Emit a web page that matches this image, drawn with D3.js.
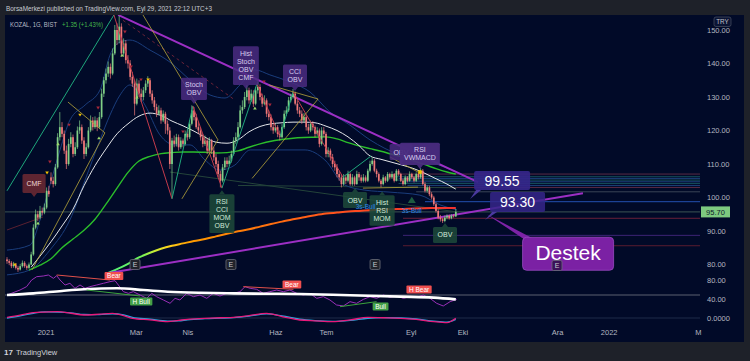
<!DOCTYPE html>
<html><head><meta charset="utf-8">
<script src="https://cdn.jsdelivr.net/npm/d3@7"></script>
<style>
html,body{margin:0;padding:0;background:#1e2129;}
svg{display:block;}
text{font-family:"Liberation Sans",Arial,sans-serif;}
</style></head><body>
<svg id="c" width="750" height="361"></svg>
<script>
// ---------------- DATA ----------------
// daily candles [open, high, low, close], bar index 0 = early Dec 2020
const candles = [
[81.5,82.2,80.2,81],[81,81.6,79.8,80.5],[80.5,81,78.9,79.5],[79.5,80.8,79,80],[80,80.4,78.5,79],
[79,79.6,77.8,78.5],[78.5,80.2,78.2,79.5],[79.5,81.2,79.1,80.5],[80.5,81,79,79.5],[79.5,80,78.4,79],
[79,80.6,78.7,80],[80,83.8,79.8,83],[83,92,82.6,91],[91,96.4,90.5,95],[95,96,93,94],
[94,97.5,93.5,96],[96,97,94.6,95.5],[95.5,98.2,95,97],[97,103,96.5,102],[102,103.5,100.2,101],
[106,107.5,104,105],[105,106.2,103,104],[104,110,103.5,109],[109,119.2,108.6,118],[118,125.5,117,121],
[121,122.5,118,119],[119,120,113,114],[114,115.5,108.5,110],[110,117.5,109.5,116],[116,119.5,115,118],
[118,118.8,112,113],[113,116.5,112.4,115],[115,121.2,114.5,120],[120,123,119,121],[121,121.8,116,117],
[117,118,111.5,113],[113,116.2,112.3,115],[115,121,114.6,120],[120,124.5,119.5,123],[123,124,120,121],
[121,124.2,120.5,123],[123,123.8,119.8,121],[121,125.5,120.4,124],[124,132.5,123.5,131],[131,136,130,135],
[135,138.5,134,137],[137,140.6,136,139],[139,140,135.5,137],[137,144.5,136.5,143],[143,151.5,142.5,150],
[150,152,145.5,147],[147,154.2,146,151],[151,152,142,143],[143,147.5,142,146],[146,147,140,141],
[141,142.5,138.5,140],[140,141,135,136],[136,137.5,133,134],[134,135,124.5,128],[128,135.5,127.5,134],
[134,135,130,131],[131,132.5,128.5,130],[130,133,129,132],[132,135,131.2,134],[134,136.2,133,135],
[135,135.6,130,131],[131,132,128,129],[129,130,126,127],[127,128,124,125],[125,127.5,124.5,126],
[126,126.8,122,123],[123,126,122.5,125],[125,125.6,119,122],[122,123,118.8,120],[120,121,108.5,110],
[110,117.8,100,117],[117,118.5,115,116],[116,119,115.2,118],[118,118.8,114,115],[115,118,114.5,117],
[117,117.6,115,116],[116,120,115.5,119],[119,120.4,117,118],[118,123,117.5,122],[122,127.5,121.5,126],
[126,127,123,124],[124,125,120.5,121],[121,122.6,119,120],[120,121,117,118],[118,119,115,116],
[116,118.5,115.4,117],[117,117.8,113,114],[114,118,113.5,117],[117,117.5,113,114],[114,115,111,112],
[112,113,109,110],[110,111,106,107],[107,108,103,105],[105,110,104.5,109],[109,112,108.2,111],
[111,112,109,110],[110,112.5,109.5,111],[111,114,110.4,113],[113,118,112.5,117],[117,119.4,116,118],
[118,122.5,117.5,121],[121,127.5,120.6,126],[126,129,125,127],[127,131.5,126.4,130],[130,133.5,129,132],
[132,132.8,128,129],[129,132.2,128.5,131],[131,132,127,128],[128,133,127.5,132],[132,134.6,131,133],
[133,133.8,129,130],[130,131,127,128],[128,130.5,127.5,129],[129,129.6,124,125],[125,126,123,124],
[124,124.8,120,121],[121,122,119,120],[120,122,119.4,121],[121,121.6,118,119],[119,120,117,118],
[118,122,117.6,121],[121,126,120.5,125],[125,127.2,124.4,126],[126,130,125.5,129],[129,131,128.4,130],
[130,132.4,129.5,131],[131,131.6,127.5,128],[128,129,125,126],[126,127,124,125],[125,126,122,123],
[123,125.2,122.5,124],[124,124.6,120,121],[121,122,119,120],[120,123,119.5,122],[122,122.8,120,121],
[121,121.5,118,119],[119,121,118.4,120],[120,120.6,115,116],[116,121,115.5,120],[120,121,118,119],
[119,119.6,112,113],[113,115,112,114],[114,114.6,111,112],[112,113,109,110],[110,111,108,109],
[109,110,106,107],[107,108,105,106],[106,107,103,104],[104,107,103.5,106],[106,106.8,104,105],
[105,108,104.5,107],[107,107.5,103.5,104],[104,107,103.5,106],[106,106.5,103.5,104],[104,108,103.8,107],
[107,107.6,105,106],[106,106.8,104.4,105],[105,107,104.5,106],[106,106.6,104.5,105],[105,108.6,104.6,108],
[108,111,107.5,110],[110,112,109.5,111],[111,111.5,107.5,108],[108,108.6,106,107],[107,107.5,104.5,105],
[105,105.5,103,104],[104,106.8,103.6,106],[106,106.4,104.4,105],[105,107.6,104.6,107],[107,107.4,105.4,106],
[106,107.8,105.5,107],[107,107.3,104.5,105],[105,108.5,104.8,108],[108,108.5,106.5,107],[107,107.4,104.6,105],
[105,105.6,103.5,104],[104,106.6,103.6,106],[106,106.4,104.5,105],[105,107.8,104.7,107],[107,107.4,105.5,106],
[106,106.5,104.5,105],[105,107.5,104.6,107],[107,107.5,105.4,106],[106,108.8,105.6,108],[108,108.5,103.6,104],
[104,104.6,101.5,102],[102,103.6,101.4,103],[103,103.5,100.4,101],[101,101.6,99.4,100],[100,100.5,97.5,98],
[98,98.6,95.5,96],[96,96.5,93.5,94],[94,94.8,92.8,93.5],[93.5,94,92.4,93],[93,94.6,92.6,94],
[94,95,93.5,94.5],[94.5,94.9,93.4,93.8],[93.8,95,93.5,94.6],[94.6,95,94,94.35],[94.35,96.6,94.2,95.7]
];
const lastPrice = 95.70;

// time axis
const timeLabels = ["2021","Mar","Nis","Haz","Tem","Eyl","Eki","Ara","2022","M"];
const timeIdx = [17.5,58.5,82,122,145,183.5,207,250,273.5,314];
// price axis
const priceTicks = [150,140,130,120,110,100,90,80];
const indTicks = [80,40,0];
const indTickLabels = ["80.00","40.00","0.0000"];

// moving averages [barIndex, price]
const maWhite = [[11,79.2],[15,82.5],[20,86.8],[25,91.5],[30,96.5],[35,103.5],[40,109.5],[45,114.5],[50,119],[55,122],[60,124.3],[65,125.2],[70,124.5],[75,122.8],[80,121.4],[85,119.8],[90,118],[95,116.5],[100,116.2],[105,117.2],[110,119.6],[115,121.2],[120,122],[125,122.3],[130,122.5],[135,122.5],[140,122.3],[145,121.3],[150,120],[155,118.1],[160,115.5],[165,112.4],[170,111.4],[175,110.5],[180,109.6],[185,108.6],[190,107.2],[195,105.6],[200,104],[204,102.5]];
const maGreen = [[10,78.3],[15,79.8],[20,81.7],[25,85],[30,87.6],[35,90.2],[40,93.5],[45,98],[50,102.8],[55,107.5],[60,110.9],[65,112.3],[70,113.1],[75,113.4],[80,113.6],[85,113.6],[90,113.5],[95,113.3],[100,113.4],[105,113.9],[110,115],[115,116],[120,116.8],[125,117.3],[130,117.7],[135,117.9],[140,118],[145,118.1],[150,117.5],[155,116.4],[160,115.4],[165,114.6],[170,113.8],[175,112.9],[180,112.1],[185,110.9],[190,109.8],[195,108.6],[200,107.6],[204,107]];
const maRainbow = [[45,77.2],[50,78.6],[55,80.2],[60,82.1],[65,83.5],[70,84.7],[75,85.6],[80,86.3],[85,87],[90,87.6],[95,88.4],[100,89.2],[105,89.9],[110,90.5],[115,91.3],[120,92.1],[125,92.8],[130,93.5],[135,94.1],[140,94.7],[145,95.2],[150,95.5],[155,95.8],[160,96],[165,96.2],[170,96.4],[175,96.5],[180,96.6],[185,96.7],[190,96.8],[195,96.85],[200,96.9],[204,96.9]];
const bandUpper = [[0,84.3],[10.5,85.8],[15,93.3],[19.5,103.7],[24.1,114.2],[28.6,123.1],[35.5,127.6],[42.3,132.1],[46.8,142.5],[51.4,146.4],[55.9,147],[65,144],[74.1,140.4],[83.2,135.1],[92.3,130.6],[99.1,129.7],[105.9,133.6],[112.7,138.1],[119.5,136.6],[128.6,134.5],[137.7,131.5],[146.8,125.5],[155.9,121.6],[165,117.2],[178.6,112.7],[192.3,110.6],[204.5,107.6]];
const bandLower = [[0,76.9],[10.5,78.4],[19.5,84.3],[28.6,93.3],[35.5,105.2],[42.3,117.2],[46.8,124.6],[51.4,130.6],[55.9,133.6],[62.7,127.6],[69.5,118.7],[76.4,115.7],[83.2,115.7],[90,111.2],[96.8,108.2],[103.6,109.7],[110.5,114.2],[119.5,114.2],[135.5,114.2],[144.5,111.2],[153.6,103.7],[162.7,102.2],[174.1,101.6],[187.7,100.7],[196.8,97.8],[204.5,96.3]];

// zigzag pivots [barIndex, price]
const zigzag = [[0,102],[48.6,154.5],[75,99.6],[84.5,127.3],[97.7,102.8],[113.6,133.9],[124.1,118.1],[130,131.5],[152.7,106.1],[165.5,112.4]];
// drawn trend lines [i1,p1,i2,p2]
const purpleLines = [[50.5,154.5,214.1,104.6],[45,77.3,261.8,101.3]];
const yellowLines = [[27.7,128.5,44.5,119.3],[11.4,78.4,44.5,119.3],[61.8,154.5,95.9,117.2],[79.5,99.6,95.9,117.2],[119.1,133.6,141.4,129.4],[111.4,105.7,141.4,129.4],[174.1,112.1,186.8,107.6],[161.8,102.8,186.8,103.1]];
const faintLines = [[74.1,107.6,204.5,95.7],[105,103.6,204.5,102.9],[0,90.3,16.4,94.2]];
const dashedLines = [[52.7,152.9,103.6,129.1]];
// horizontal levels at right
const levelPrices = [107.0,106.2,105.7,105.2,104.7,104.2,103.6,103.0,101.7,98.75,93.8,88.7,85.6];
const levelStart = [176,176,178,176,180,178,182,180,186,190,180,180,180];

// signal labels
const sigText = ["CMF","Stoch\nOBV","Hist\nStoch\nOBV\nCMF","CCI\nOBV","RSI\nCCI\nMOM\nOBV","OBV","Hist\nRSI\nMOM","OBV","RSI\nVWMACD","OBV"];
const sigIdx = [12.3,85,108.6,130.9,97.7,158.2,170.5,179.1,187.7,199.1];
const sigPrice = [100.15,127.9,132.4,131.8,102.2,102.8,101.9,110,108.5,92.4];
const sigType = ["cmf","bear","bear","bear","bull","bull","bull","bear","bear","bull"];
// small markers [barIndex, price]
const mkYellowDown = [[3.6,79.9],[18.2,107.3],[33.2,124.6],[64.1,135.1]];
const mkRedDown = [[19.5,110.6],[28.2,121.6],[41.4,126.7],[53.6,149.4],[56.4,139],[60.9,135.1],[80,119.6],[116.8,134.5],[119.5,127.6]];
const mkGreenUp = [[14.1,92.4],[23.2,116],[41.8,117.8],[52.3,142.5],[59.1,130],[112.7,126.7],[184,99.3]];
const mkYellowSq = [[187.7,107.6]];
const bullText = [[163,97.4],[184,96]];
const earningsIdx = [58.2,101.8,167.3,250];

// callouts
const calloutText = ["99.55","93.30","Destek"];
const calloutIdx = [210.5,217.3,218];
const calloutPrice = [99.55,93.3,95];

// indicator pane
const rsiLine = [[0,48.4],[5.9,58.9],[8.9,66],[11.2,80],[13.5,87],[16.5,88.4],[18.8,90.5],[21.1,83.5],[22.6,89.1],[24.1,80],[26.4,69.5],[28.6,73],[30.9,62.5],[33.2,69.5],[35.5,62.5],[37.7,66],[40.8,69.5],[43.8,73],[46.8,76.5],[49.1,78.6],[50.6,69.5],[52.9,55.4],[55.2,51.9],[57.4,55.4],[60.5,48.4],[63.5,41.4],[65.8,51.9],[68,44.9],[71.1,37.9],[74.1,30.9],[76.4,41.4],[78.6,37.9],[81.7,51.9],[84.7,44.9],[87.7,48.4],[90.8,41.4],[93.8,51.9],[96.8,46.3],[99.8,51.9],[102.9,51.9],[105.9,55.4],[108.2,66],[110.5,62.5],[113.5,60.4],[116.5,51.9],[119.5,55.4],[122.6,58.9],[125.6,55.4],[128.6,58.9],[131.7,51.9],[134.7,48.4],[137.7,51.9],[140.8,41.4],[143.8,44.9],[146.8,37.9],[149.8,27.4],[152.9,25.3],[155.9,34.4],[158.9,30.9],[162,39.3],[165,44.9],[168,41.4],[171.1,48.4],[174.1,43.5],[177.1,46.3],[180.2,41.4],[183.2,44.9],[186.2,43.5],[189.2,48.4],[192.3,41.4],[195.3,30.9],[198.3,25.3],[201.4,34.4],[204.4,39.3]];
const rsiSignal = [[0,48.4],[12,51.9],[25,57],[35,60.4],[50,62.5],[62,59],[73,55.4],[88,53],[103,51.9],[118,51.2],[133,50.5],[148,48.8],[164,47],[179,45],[194,42.8],[204,39.3]];
const oscPink = [[0,1.4],[6,6],[12,11.2],[17,12.5],[23,13.3],[29,10],[35,6.3],[42,8],[48,9.8],[53,5],[57,-0.7],[65,-4],[73,-7.7],[78,-5],[82,-2.8],[90,-1],[97,0.5],[103,1.4],[110,5],[118,9.8],[125,3],[133,-4.2],[140,-6],[148,-7.7],[156,-4],[164,1.4],[171,0.5],[179,-0.7],[186,-3],[194,-7.7],[200,-9.8],[204,-0.7]];
const oscBlue = [[0,0],[6,4.5],[12,10],[17,12.8],[23,12.5],[29,11],[35,7.5],[42,7],[48,9],[53,6.5],[57,1.5],[65,-2.5],[73,-6.5],[78,-6],[82,-3.8],[90,-1.5],[97,-0.3],[103,0.8],[110,3.8],[118,8.5],[125,4.5],[133,-2.5],[140,-5.5],[148,-7],[156,-5],[164,-0.5],[171,0.8],[179,0],[186,-2],[194,-6.5],[200,-8.5],[204,-3]];
const divLines = [[22.6,90.5,46.8,80],[36.2,58.9,60.5,46.3],[107.4,66,130.2,60.4],[151.4,23.9,168,34.4]];
const divType = ["bear","bull","bear","bull"];
const divLabelText = ["Bear","H Bull","Bear","Bull","H Bear"];
const divLabelIdx = [48.6,61,129.5,169.8,187.3];
const divLabelVal = [88.4,35,70.5,24.2,60];
const divLabelType = ["bear","bull","bear","bull","bear"];
const indLevel = 48.4;

// ---------------- DRAW ----------------
const svg = d3.select('#c');
const defs = svg.append('defs');
defs.append('clipPath').attr('id','plot').append('rect').attr('x',5).attr('y',15).attr('width',695).attr('height',311);
const gr = defs.append('linearGradient').attr('id','rb').attr('gradientUnits','userSpaceOnUse')
  .attr('x1',105).attr('x2',460).attr('y1',0).attr('y2',0);
[[0,'#4ef07e'],[0.1,'#6cf25a'],[0.14,'#c8ec34'],[0.18,'#ffd21a'],[0.24,'#ff9c00'],[0.4,'#ff7a0a'],[0.7,'#ff4a20'],[1,'#f03030']]
  .forEach(s=>gr.append('stop').attr('offset',s[0]).attr('stop-color',s[1]));

svg.append('rect').attr('width',750).attr('height',361).attr('fill','#1e2129');
svg.append('rect').attr('x',5).attr('y',15).attr('width',739).attr('height',327).attr('fill','#010a28');

svg.append('text').attr('x',6).attr('y',11).attr('fill','#c9ccd4').attr('font-size',7)
  .attr('textLength',206).attr('lengthAdjust','spacingAndGlyphs')
  .text('BorsaMerkezi published on TradingView.com, Eyl 29, 2021 22:12 UTC+3');

const x = d3.scaleLinear().domain([0,314]).range([7,697.8]);
const y = d3.scaleLinear().domain([80,150]).range([264.5,30]);
const yi = d3.scaleLinear().domain([0,80]).range([318,280]);

const plot = svg.append('g').attr('clip-path','url(#plot)');
const lineP = d3.line().x(d=>x(d[0])).y(d=>y(d[1])).curve(d3.curveMonotoneX);
const lineI = d3.line().x(d=>x(d[0])).y(d=>yi(d[1])).curve(d3.curveMonotoneX);
const lineIL = d3.line().x(d=>x(d[0])).y(d=>yi(d[1])).curve(d3.curveLinear);

const levelColors = ['#5a2a44','#15505a','#1c3f7a','#15505a','#1c3f7a','#15505a','#1c3f7a','#5a2a44','#3a4456','#2350b0','#6a2038','#3d2475','#5a1c30'];
levelPrices.forEach((p,k)=>{
  plot.append('line').attr('x1',x(levelStart[k])).attr('x2',700).attr('y1',y(p)).attr('y2',y(p))
    .attr('stroke',levelColors[k]).attr('stroke-width',1);
});
plot.append('line').attr('x1',5).attr('x2',700).attr('y1',y(lastPrice)).attr('y2',y(lastPrice))
  .attr('stroke','#3c5553').attr('stroke-width',1);
plot.append('line').attr('x1',5).attr('x2',700).attr('y1',yi(indLevel)).attr('y2',yi(indLevel)).attr('stroke','#5d6170').attr('stroke-width',1);
plot.append('line').attr('x1',5).attr('x2',700).attr('y1',yi(0)).attr('y2',yi(0)).attr('stroke','#1f2a48').attr('stroke-width',1);

faintLines.forEach((l,k)=>plot.append('line').attr('x1',x(l[0])).attr('y1',y(l[1])).attr('x2',x(l[2])).attr('y2',y(l[3]))
  .attr('stroke',k==2?'#5a2030':'#24443a').attr('stroke-width',1));
dashedLines.forEach(l=>plot.append('line').attr('x1',x(l[0])).attr('y1',y(l[1])).attr('x2',x(l[2])).attr('y2',y(l[3]))
  .attr('stroke','#6a2338').attr('stroke-width',1).attr('stroke-dasharray','3,3'));

plot.append('path').attr('d',lineP(bandUpper)).attr('fill','none').attr('stroke','#1a3d7c').attr('stroke-width',1);
plot.append('path').attr('d',lineP(bandLower)).attr('fill','none').attr('stroke','#1a3d7c').attr('stroke-width',1);
plot.append('path').attr('d',lineP(maGreen)).attr('fill','none').attr('stroke','#2bbd2b').attr('stroke-width',1.4);
plot.append('path').attr('d',lineP(maWhite)).attr('fill','none').attr('stroke','#e4e6ea').attr('stroke-width',1);
plot.append('path').attr('d',lineP(maRainbow)).attr('fill','none').attr('stroke','url(#rb)').attr('stroke-width',2);

purpleLines.forEach(l=>plot.append('line').attr('x1',x(l[0])).attr('y1',y(l[1])).attr('x2',x(l[2])).attr('y2',y(l[3]))
  .attr('stroke','#9c2fc4').attr('stroke-width',2));

// candles
const up='#80cf86', dn='#f07878';
const cg = plot.append('g');
cg.selectAll('line').data(candles).join('line')
  .attr('x1',(d,i)=>x(i)).attr('x2',(d,i)=>x(i)).attr('y1',d=>y(d[1])).attr('y2',d=>y(d[2]))
  .attr('stroke',d=>d[3]>=d[0]?up:dn).attr('stroke-width',0.7);
cg.selectAll('rect').data(candles).join('rect')
  .attr('x',(d,i)=>x(i)-0.85).attr('width',1.7)
  .attr('y',d=>y(Math.max(d[0],d[3])))
  .attr('height',d=>Math.max(0.8,Math.abs(y(d[0])-y(d[3]))))
  .attr('fill',d=>d[3]>=d[0]?up:dn);

for(let k=0;k<zigzag.length-1;k++){
  const a=zigzag[k], b=zigzag[k+1];
  plot.append('line').attr('x1',x(a[0])).attr('y1',y(a[1])).attr('x2',x(b[0])).attr('y2',y(b[1]))
    .attr('stroke',b[1]>a[1]?'#1fa77c':'#c33b4c').attr('stroke-width',1);
}
yellowLines.forEach(l=>plot.append('line').attr('x1',x(l[0])).attr('y1',y(l[1])).attr('x2',x(l[2])).attr('y2',y(l[3]))
  .attr('stroke','#b8a63a').attr('stroke-width',0.8));

const tri = (cx,cy,s,upw)=> upw? `M${cx-s},${cy+s*0.8}L${cx+s},${cy+s*0.8}L${cx},${cy-s*0.8}Z` : `M${cx-s},${cy-s*0.8}L${cx+s},${cy-s*0.8}L${cx},${cy+s*0.8}Z`;
mkYellowDown.forEach(d=>plot.append('path').attr('d',tri(x(d[0]),y(d[1]),1.8,false)).attr('fill','#f2c200'));
mkRedDown.forEach(d=>plot.append('path').attr('d',tri(x(d[0]),y(d[1]),1.8,false)).attr('fill','#a8283a'));
mkGreenUp.forEach((d,k)=>plot.append('path').attr('d',tri(x(d[0]),y(d[1]),k==mkGreenUp.length-1?4:1.8,true)).attr('fill',k==mkGreenUp.length-1?'#1d5c40':'#9ad66a'));
mkYellowSq.forEach(d=>plot.append('rect').attr('x',x(d[0])-1.8).attr('y',y(d[1])-1.8).attr('width',3.6).attr('height',3.6).attr('fill','#f2c200'));

// signal labels
const sigFill = {cmf:'#6e2a33', bear:'#4a2c80', bull:'#1d4a3a'};
const sigFg = {cmf:'#eed6d6', bear:'#d8ccf0', bull:'#d0ead8'};
sigText.forEach((t,k)=>{
  const lines=t.split('\n');
  const tx=x(sigIdx[k]), ty=y(sigPrice[k]);
  const g=plot.append('g');
  const below = sigType[k]==='bull';
  const lh=8.2;
  const h = lines.length==1 ? (k==0?19:16) : lines.length*lh+6;
  const tmp = g.append('g');
  let maxw=0;
  lines.forEach(l=>{const e=tmp.append('text').attr('font-size',7).text(l); maxw=Math.max(maxw,e.node().getComputedTextLength());});
  tmp.remove();
  const w=Math.max(k==0||k==7?20:24, maxw+8);
  const top = below? ty+4 : ty-4-h;
  const op = k==8?0.95:0.85;
  g.append('rect').attr('x',tx-w/2).attr('y',top).attr('width',w).attr('height',h).attr('rx',1.5)
    .attr('fill',sigFill[sigType[k]]).attr('opacity',op);
  g.append('path').attr('d', below? `M${tx-3},${ty+4}L${tx+3},${ty+4}L${tx},${ty}Z` : `M${tx-3},${ty-4}L${tx+3},${ty-4}L${tx},${ty}Z`)
    .attr('fill',sigFill[sigType[k]]).attr('opacity',op);
  const off = (h - lines.length*lh)/2;
  lines.forEach((l,j)=>g.append('text').attr('x',tx).attr('y',top+off+lh*(j+1)-1.6).attr('text-anchor','middle')
    .attr('font-size',7).attr('fill',sigFg[sigType[k]]).text(l));
});
bullText.forEach(d=>plot.append('text').attr('x',x(d[0])).attr('y',y(d[1])+2.5).attr('text-anchor','middle')
  .attr('font-size',6.5).attr('fill','#2f86e8').text('3s-Bull'));

// indicator pane
plot.append('path').attr('d',lineI(oscBlue)).attr('fill','none').attr('stroke','#29a8e0').attr('stroke-width',1.3);
plot.append('path').attr('d',lineI(oscPink)).attr('fill','none').attr('stroke','#e8197a').attr('stroke-width',1.3);
plot.append('path').attr('d',lineIL(rsiLine)).attr('fill','none').attr('stroke','#9a2fb8').attr('stroke-width',1);
plot.append('path').attr('d',lineI(rsiSignal)).attr('fill','none').attr('stroke','#ffffff').attr('stroke-width',2.6);
divLines.forEach((l,k)=>plot.append('line').attr('x1',x(l[0])).attr('y1',yi(l[1])).attr('x2',x(l[2])).attr('y2',yi(l[3]))
  .attr('stroke',divType[k]==='bear'?'#e0504a':'#3ca33c').attr('stroke-width',1));
divLabelText.forEach((t,k)=>{
  const cx=x(divLabelIdx[k]), cy=yi(divLabelVal[k]);
  const lg=plot.append('g');
  const r=lg.append('rect');
  const e=lg.append('text').attr('x',cx).attr('y',cy+2.3).attr('text-anchor','middle').attr('font-size',6.5).attr('fill','#ffffff').text(t);
  const w=e.node().getComputedTextLength()+5;
  r.attr('x',cx-w/2).attr('y',cy-4).attr('width',w).attr('height',8).attr('rx',1)
    .attr('fill',divLabelType[k]==='bear'?'#f0504f':'#43a047');
});

// callouts
(function(){
  let tx=x(calloutIdx[0]), ty=y(calloutPrice[0]);
  svg.append('path').attr('d',`M${tx},${ty}L${tx+6},${ty-9}L${tx+11},${ty-9}Z`).attr('fill','#4b3aa0');
  svg.append('rect').attr('x',tx+4).attr('y',ty-28).attr('width',56).attr('height',19).attr('rx',2).attr('fill','#35268a').attr('opacity',0.92);
  svg.append('text').attr('x',tx+32).attr('y',ty-13).attr('text-anchor','middle').attr('font-family','DejaVu Sans').attr('font-size',14).attr('fill','#ffffff').text(calloutText[0]);
  tx=x(calloutIdx[1]); ty=y(calloutPrice[1]);
  svg.append('path').attr('d',`M${tx},${ty}L${tx+7},${ty-8}L${tx+12},${ty-8}Z`).attr('fill','#4b3aa0');
  svg.append('rect').attr('x',tx+5).attr('y',ty-28).attr('width',55).attr('height',20).attr('rx',2).attr('fill','#35268a').attr('opacity',0.85);
  svg.append('text').attr('x',tx+32.5).attr('y',ty-12.5).attr('text-anchor','middle').attr('font-family','DejaVu Sans').attr('font-size',14).attr('fill','#ffffff').text(calloutText[1]);
  tx=x(calloutIdx[2]); ty=y(calloutPrice[2]);
  svg.append('path').attr('d',`M${tx},${ty}L${tx+36},${ty+24}L${tx+46},${ty+24}Z`).attr('fill','#7d23a6');
  svg.append('rect').attr('x',tx+36).attr('y',ty+23).attr('width',91).attr('height',33).attr('rx',4).attr('fill','#7b21a4').attr('stroke','#9a4ac2').attr('stroke-width',0.8);
  svg.append('text').attr('x',tx+81.5).attr('y',ty+45.5).attr('text-anchor','middle').attr('font-family','DejaVu Sans').attr('font-size',21).attr('fill','#ffffff').text(calloutText[2]);
})();
earningsIdx.forEach((i,k)=>svg.append('rect').attr('x',x(i)-5).attr('y',k==3?260.5:259.5).attr('width',10).attr('height',10).attr('rx',1.5)
  .attr('fill',k==3?'#3a1258':'#20232c').attr('stroke','#6a6d78').attr('stroke-width',0.8));
earningsIdx.forEach((i,k)=>svg.append('text').attr('x',x(i)).attr('y',k==3?268.2:267.2).attr('text-anchor','middle').attr('font-size',7).attr('fill','#c8cad0').text('E'));

// axes
const axR = d3.axisRight(y).tickValues(priceTicks).tickFormat(d3.format('.2f')).tickSize(0).tickPadding(0);
const gR = svg.append('g').attr('transform','translate(707,0)').call(axR);
const axI = d3.axisRight(yi).tickValues(indTicks).tickFormat((d,k)=>indTickLabels[k]).tickSize(0).tickPadding(0);
const gI = svg.append('g').attr('transform','translate(707,0)').call(axI);
const axB = d3.axisBottom(x).tickValues(timeIdx).tickFormat((d,k)=>timeLabels[k]).tickSize(0).tickPadding(3);
const gB = svg.append('g').attr('transform','translate(0,327)').call(axB);
[gR,gI,gB].forEach(g=>{g.select('.domain').remove(); g.selectAll('text').attr('fill','#b4b7c0').attr('font-size',7.5).attr('font-family','Liberation Sans, Arial, sans-serif');});

svg.append('rect').attr('x',701).attr('y',y(lastPrice)-5.5).attr('width',29).attr('height',11).attr('fill','#7dc97f');
svg.append('text').attr('x',715.5).attr('y',y(lastPrice)+2.7).attr('text-anchor','middle').attr('font-size',7.5).attr('fill','#0d1a2a').text(d3.format('.2f')(lastPrice));
svg.append('rect').attr('x',714).attr('y',17).attr('width',17).attr('height',9.5).attr('rx',2).attr('fill','#0b1434').attr('stroke','#4a5162').attr('stroke-width',0.7);
svg.append('text').attr('x',722.5).attr('y',24.2).attr('text-anchor','middle').attr('font-size',6.3).attr('fill','#c0c3cb').text('TRY');

svg.append('text').attr('x',10).attr('y',26.5).attr('font-size',7).attr('fill','#b8bbc4').attr('textLength',47).attr('lengthAdjust','spacingAndGlyphs').text('KOZAL, 1G, BIST');
svg.append('text').attr('x',62).attr('y',26.5).attr('font-size',7).attr('fill','#45b84a').attr('textLength',41).attr('lengthAdjust','spacingAndGlyphs').text('+1.35 (+1.43%)');

svg.append('text').attr('x',4).attr('y',355).attr('font-size',8).attr('font-weight','bold').attr('fill','#d1d4dc').text('17');
svg.append('text').attr('x',16).attr('y',355).attr('font-size',7.5).attr('fill','#d1d4dc').text('TradingView');
</script>
</body></html>
